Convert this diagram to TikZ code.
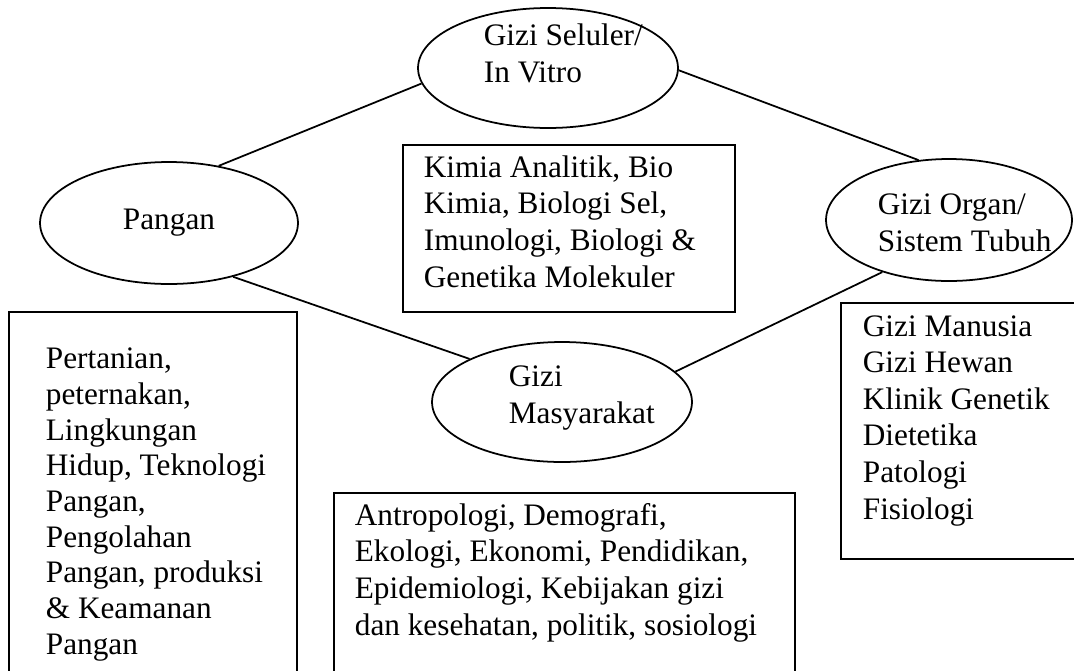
\documentclass[tikz,border=0pt]{standalone}
\usepackage{fontspec}
\setmainfont{Liberation Serif}
\usetikzlibrary{shapes.geometric}

\begin{document}
\begin{tikzpicture}[x=0.02cm,y=-0.02cm,line width=1pt,
    bidang/.style={draw,ellipse,inner sep=0pt,minimum width=5.2cm,minimum height=2.4cm,font=\fontsize{17.8}{20.8}\selectfont},
    teks/.style={anchor=base west,align=left,inner sep=0pt,font=\fontsize{17.8}{20.8}\selectfont}]
            \clip (0,0) rectangle (1074,670);

            % ellips
            \node [bidang] (seluler) at (548,68) {};
            \node [bidang,minimum width=5.16cm,minimum height=2.44cm] (pangan) at (169,223) {Pangan};
            \node [bidang,minimum width=4.92cm,minimum height=2.44cm] (organ) at (949,220) {};
            \node [bidang] (masyarakat) at (562,402) {};

            % teks ellips (anchor = baris terakhir)
            \node [teks] (tSeluler) at (483,82) {Gizi Seluler/\\In Vitro};
            \node [teks] (tOrgan) at (877,251) {Gizi Organ/\\Sistem Tubuh};
            \node [teks] (tMasyarakat) at (508,423) {Gizi\\Masyarakat};

            % garis
            \draw (pangan.49) -- (seluler.187);
            \draw (seluler.359) -- (organ.117);
            \draw (pangan.-40) -- (masyarakat.155);
            \draw (masyarakat.15) -- (organ.218);

            % kotak
            \draw (403,145) rectangle (735,312);
            \draw (9,312) rectangle (297,700);
            \draw (841,303) rectangle (1100,559);
            \draw (334,493) rectangle (795,700);

            \node [teks] (tKimia) at (423,287) {Kimia Analitik, Bio\\Kimia, Biologi Sel,\\Imunologi, Biologi \&\\Genetika Molekuler};
            \node [teks,font=\fontsize{17.8}{20.3}\selectfont] (tPertanian) at (45,654) {Pertanian,\\peternakan,\\Lingkungan\\Hidup, Teknologi\\Pangan,\\Pengolahan\\Pangan, produksi\\\& Keamanan\\Pangan};
            \node [teks] (tManusia) at (862,519) {Gizi Manusia\\Gizi Hewan\\Klinik Genetik\\Dietetika\\Patologi\\Fisiologi};
            \node [teks] (tAntropologi) at (354,635) {Antropologi, Demografi,\\Ekologi, Ekonomi, Pendidikan,\\Epidemiologi, Kebijakan gizi\\dan kesehatan, politik, sosiologi};
\end{tikzpicture}
\end{document}
